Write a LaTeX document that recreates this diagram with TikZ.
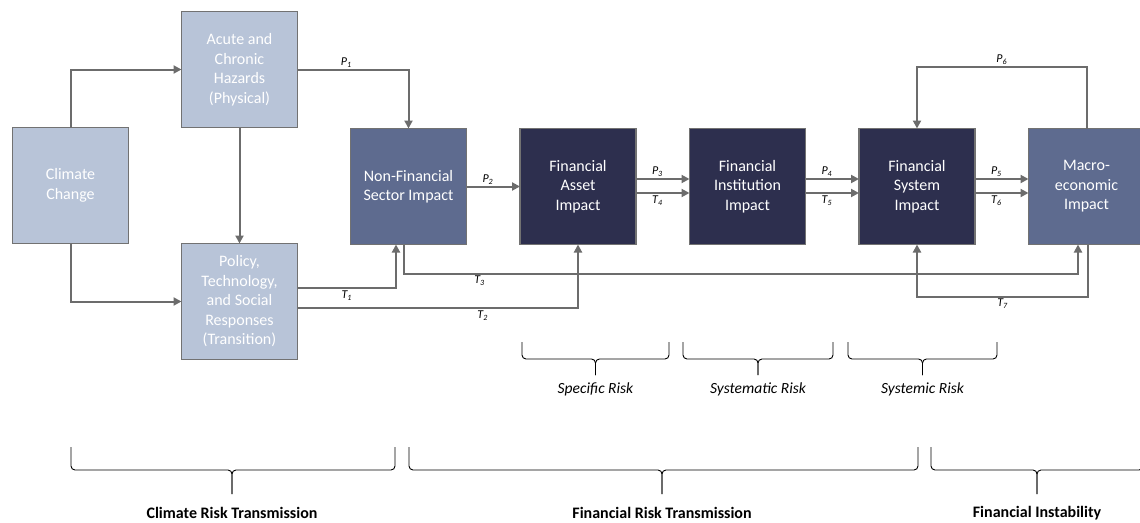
\documentclass[tikz,border=0pt]{standalone}
\usepackage{fontspec}
\setmainfont{Carlito}
\usetikzlibrary{arrows.meta,positioning}

\definecolor{hazardblue}{HTML}{B8C4D8}
\definecolor{impactblue}{HTML}{5E6B8F}
\definecolor{financenavy}{HTML}{2D2F4E}
\definecolor{edgegrey}{HTML}{727272}
\definecolor{arrowgrey}{HTML}{6C6C6C}

\newcommand{\chan}[2]{\textit{#1\textsubscript{#2}}}

\begin{document}
\begin{tikzpicture}[x=1pt,y=1pt,>={Triangle[length=8pt,width=8pt]},
    box/.style={draw=edgegrey, line width=1.4pt, minimum size=116pt, inner sep=2pt, outer sep=0pt,
      align=center, text=white, font=\fontsize{16}{19.5}\selectfont},
    lightbox/.style={box, fill=hazardblue},
    midbox/.style={box, fill=impactblue},
    darkbox/.style={box, fill=financenavy},
    flow/.style={->, draw=arrowgrey, line width=2pt},
    lbl/.style={font=\fontsize{12}{13}\selectfont, inner sep=1.5pt},
    bracket/.style={draw=black, line width=0.9pt, rounded corners=4pt},
    risklabel/.style={font=\fontsize{15.5}{17}\selectfont\itshape},
    stagelabel/.style={font=\fontsize{16}{18}\selectfont\bfseries}]
  \useasboundingbox (0,0) rectangle (1140,-522);

  \node[lightbox] (climate) at (70.5,-185.5) {Climate\\Change};
  \node[lightbox] (acute)   [above right=0pt and 53pt of climate] {Acute and\\Chronic\\Hazards\\(Physical)};
  \node[lightbox] (policy)  [below right=0pt and 53pt of climate] {Policy,\\Technology,\\and Social\\Responses\\(Transition)};
  \node[midbox]   (nonfin)  [below right=1pt and 53pt of acute] {Non-Financial\\Sector Impact};
  \node[darkbox]  (asset)   [right=53.5pt of nonfin] {Financial\\Asset\\Impact};
  \node[darkbox]  (inst)    [right=53.5pt of asset]  {Financial\\Institution\\Impact};
  \node[darkbox]  (system)  [right=53.5pt of inst]   {Financial\\System\\Impact};
  \node[midbox]   (macro)   [right=53.5pt of system] {Macro-\\economic\\Impact};

  \draw[flow] (climate.north) |- (acute.west);
  \draw[flow] (climate.south) |- (policy.west);
  \draw[flow] (acute.south) -- (policy.north);
  \draw[flow] (acute.east) -| node[lbl, above, pos=0.22] (p1) {\chan{P}{1}} (nonfin.north);
  \draw[flow] ([yshift=13.5pt]policy.east) -| node[lbl, below, pos=0.25] (t1) {\chan{T}{1}} ([xshift=-12.5pt]nonfin.south);
  \draw[flow] ([yshift=-6.5pt]policy.east) -| node[lbl, below, pos=0.33] (t2) {\chan{T}{2}} (asset.south);
  \draw[flow] ([xshift=-4.5pt]nonfin.south) -- ++(0,-29) -| node[lbl, below, pos=0.056] (t3) {\chan{T}{3}} ([xshift=-8.5pt]macro.south);
  \draw[flow] (nonfin.east) -- node[lbl, above, pos=0.4] (p2) {\chan{P}{2}} (asset.west);
  \draw[flow] ([yshift=7.5pt]asset.east) -- node[lbl, above, pos=0.4] (p3) {\chan{P}{3}} ([yshift=7.5pt]inst.west);
  \draw[flow] ([yshift=-6.5pt]asset.east) -- node[lbl, below, pos=0.4] (t4) {\chan{T}{4}} ([yshift=-6.5pt]inst.west);
  \draw[flow] ([yshift=7.5pt]inst.east) -- node[lbl, above, pos=0.4] (p4) {\chan{P}{4}} ([yshift=7.5pt]system.west);
  \draw[flow] ([yshift=-6.5pt]inst.east) -- node[lbl, below, pos=0.4] (t5) {\chan{T}{5}} ([yshift=-6.5pt]system.west);
  \draw[flow] ([yshift=7.5pt]system.east) -- node[lbl, above, pos=0.4] (p5) {\chan{P}{5}} ([yshift=7.5pt]macro.west);
  \draw[flow] ([yshift=-6.5pt]system.east) -- node[lbl, below, pos=0.4] (t6) {\chan{T}{6}} ([yshift=-6.5pt]macro.west);
  \draw[flow] (macro.north) -- ++(0,61.5) -| node[lbl, above, pos=0.25] (p6) {\chan{P}{6}} (system.north);
  \draw[flow] ([xshift=1.5pt]macro.south) -- ++(0,-52) -| node[lbl, below, pos=0.25] (t7) {\chan{T}{7}} (system.south);

  \foreach \xa/\xb/\riskname [count=\i] in {522/669/Specific Risk, 683/833/Systematic Risk, 848/997/Systemic Risk}{
    \pgfmathsetmacro{\xm}{(\xa+\xb)/2}
    \draw[bracket] (\xa,-342) -- (\xa,-359) -- (\xm,-359) -- (\xm,-375);
    \draw[bracket] (\xb,-342) -- (\xb,-359) -- (\xm,-359) -- (\xm,-375);
    \node[risklabel] (risk\i) at (\xm,-389) {\riskname};
  }

  \foreach \xa/\xb/\xm/\stagename [count=\i] in {71/395/232/Climate Risk Transmission, 409/918/662/Financial Risk Transmission, 931/1143/1037/Financial Instability}{
    \draw[bracket] (\xa,-447) -- (\xa,-470) -- (\xm,-470) -- (\xm,-494);
    \draw[bracket] (\xb,-447) -- (\xb,-470) -- (\xm,-470) -- (\xm,-494);
    \node[stagelabel] (stage\i) at (\xm,-513) {\stagename};
  }
\end{tikzpicture}
\end{document}
